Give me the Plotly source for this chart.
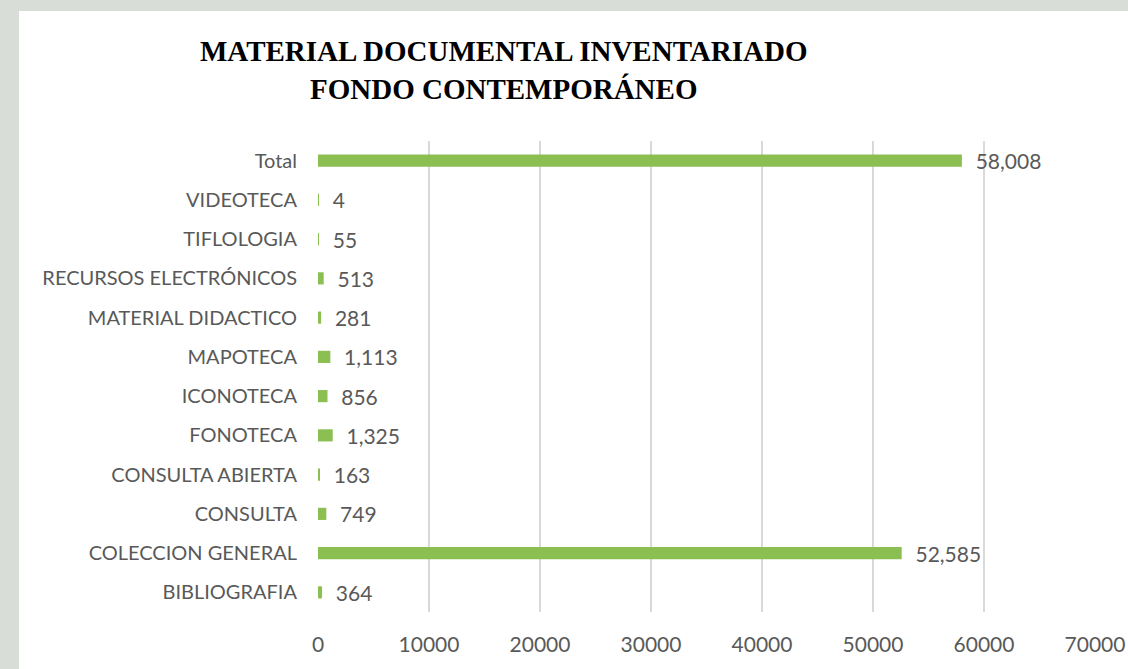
import plotly.graph_objects as go

categories = ["BIBLIOGRAFIA", "COLECCION GENERAL", "CONSULTA", "CONSULTA ABIERTA",
              "FONOTECA", "ICONOTECA", "MAPOTECA", "MATERIAL DIDACTICO",
              "RECURSOS ELECTRÓNICOS", "TIFLOLOGIA", "VIDEOTECA", "Total"]
values = [364, 52585, 749, 163, 1325, 856, 1113, 281, 513, 55, 4, 58008]
x_ticks = [0, 10000, 20000, 30000, 40000, 50000, 60000, 70000]
title_lines = ["MATERIAL DOCUMENTAL INVENTARIADO", "FONDO CONTEMPORÁNEO"]

W, H = 1128, 669
L, R, T, B = 318, 33, 141, 57
pw, ph = W - L - R, H - T - B

def px(x):
    return (x - L) / pw

def py(y):
    return (H - B - y) / ph

fig = go.Figure(go.Bar(
    y=categories, x=values, orientation="h",
    marker=dict(color="#8cbf52", line=dict(width=0)),
    width=0.31,
    text=values, texttemplate="\u00a0\u00a0%{x:,}", textposition="outside",
    constraintext="none",
    textfont=dict(family="Lato", size=21, color="#595959"),
    cliponaxis=False, hoverinfo="skip",
))

fig.add_shape(type="rect", xref="paper", yref="paper", layer="below",
              x0=px(19), x1=px(W + 5), y0=py(H + 5), y1=py(11),
              fillcolor="white", line=dict(width=0))

fig.update_layout(
    width=W, height=H,
    margin=dict(l=L, r=R, t=T, b=B, autoexpand=False),
    paper_bgcolor="#d9ddd8",
    plot_bgcolor="white",
    showlegend=False,
    annotations=[
        dict(text="<b>" + title_lines[0] + "<br>" + title_lines[1] + "</b>",
             xref="paper", yref="paper", x=px(503), y=py(70),
             xanchor="center", yanchor="middle", showarrow=False,
             font=dict(family="Liberation Serif", size=29, color="#000000")),
    ],
)
fig.update_xaxes(range=[0, 70000], tickvals=x_ticks, ticktext=[str(v) for v in x_ticks],
                 showgrid=True, gridcolor="#d9d9d9", gridwidth=2, zeroline=False,
                 showline=False, ticks="", ticklabelstandoff=18, automargin=False,
                 tickfont=dict(family="Lato", size=21, color="#595959"))
fig.update_yaxes(showgrid=False, showline=False, zeroline=False, ticks="",
                 ticklabelstandoff=20, automargin=False,
                 tickfont=dict(family="Lato", size=20, color="#595959"))

fig.write_html("out.html", config={"displayModeBar": False},
               post_script="document.body.style.margin='0';document.body.style.overflow='hidden';")
